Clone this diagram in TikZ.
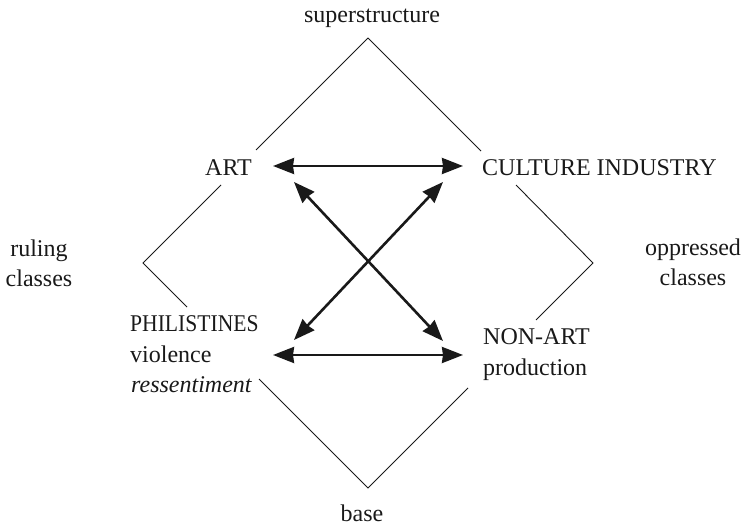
\documentclass[tikz,border=0pt]{standalone}
\usepackage{fontspec}
\setmainfont{Liberation Serif}
\usetikzlibrary{arrows.meta,calc}
\tikzset{
  lab/.style={inner sep=0pt, anchor=base west, font=\fontsize{24}{30}\selectfont, text=black!90},
  clab/.style={lab, anchor=base},
  edge/.style={line width=0.9pt, draw=black!90},
  tip/.tip={Stealth[length=21pt,width=16pt,inset=1pt]},
  arr/.style={line width=2.6pt, draw=black!90, tip-tip}
}
\begin{document}
\begin{tikzpicture}[x=1pt,y=-1pt]
\useasboundingbox (0,0) rectangle (747,526);
% labels
\node[clab] (sup) at (372,23) {superstructure};
\node[clab] (bas) at (362,521) {base};
\node[clab] (rul) at (39,257) {ruling};
\node[clab] (rcl) at (39,287) {classes};
\node[clab] (opp) at (693,256) {oppressed};
\node[clab] (ocl) at (693,286) {classes};
\node[lab] (art) at (205,176) {ART};
\node[lab] (ci) at (482,176) {CULTURE INDUSTRY};
\node[lab] (phil) at (130,332) {\scalebox{0.9}[1]{PHILISTINES}};
\node[lab] (viol) at (130,363) {violence};
\node[lab] (ress) at (131,393) {\itshape ressentiment};
\node[lab] (non) at (483,345) {NON-ART};
\node[lab] (prod) at (483,376) {production};
% diamond (broken around labels)
\coordinate (top) at (368,38);
\coordinate (lft) at (143,263);
\coordinate (rgt) at (593,263);
\coordinate (bot) at (368,488);
\draw[edge] (top) -- (256,150);
\draw[edge] (221,185) -- (lft) -- (187,307);
\draw[edge] (top) -- (481,151);
\draw[edge] (516,185) -- (rgt) -- (536,320);
\draw[edge] (259,379) -- (bot) -- (468,388);
% arrows
\draw[arr] ($(art.base west)+(68,-10)$) -- ($(ci.base west)+(-19,-10)$);
\draw[arr] ($(phil.base west)+(143,23)$) -- ($(non.base west)+(-20,10)$);
\draw[arr] ($(phil.base west)+(164,8)$) -- ($(ci.base west)+(-39,6)$);
\draw[arr] ($(art.base west)+(89,6)$) -- ($(non.base west)+(-40,-4)$);
\end{tikzpicture}
\end{document}
